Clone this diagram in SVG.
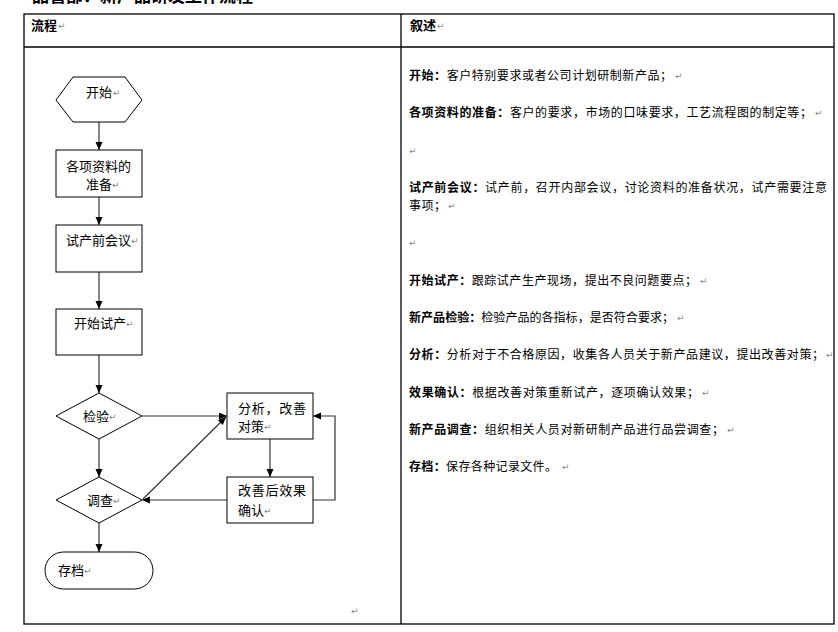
<svg xmlns="http://www.w3.org/2000/svg" width="838" height="632" viewBox="0 0 838 632">
<defs>
<marker id="arr" markerUnits="userSpaceOnUse" markerWidth="9" markerHeight="8" refX="8" refY="3.5" orient="auto">
<path d="M0,0 L8,3.5 L0,7 z" fill="#000"/>
</marker>
<style>
.t{font-family:"Liberation Sans","Noto Sans CJK SC",sans-serif;font-size:13px;fill:#000}
.r{font-family:"Liberation Sans","Noto Sans CJK SC",sans-serif;font-size:12px;fill:#000}
.b{font-weight:bold}
.pm{font-family:"DejaVu Sans",sans-serif;font-size:9px;fill:#888}
.grid{stroke:#000;stroke-width:1.3;fill:none}
.shape{fill:#fff;stroke:#000;stroke-width:1}
.c{stroke:#333;stroke-width:1.2;fill:none}
</style>
</defs>
<rect width="838" height="632" fill="#fff"/>
<text x="32" y="2" style="font-family:'Liberation Sans','Noto Sans CJK SC',sans-serif;font-size:17px;font-weight:bold">品管部：新产品研发工作流程</text>
<g id="table">
<rect x="24" y="14" width="810" height="610" class="grid"/>
<line x1="24" y1="47" x2="834" y2="47" class="grid"/>
<line x1="401" y1="14" x2="401" y2="624" class="grid"/>
<text x="31" y="30" class="r b" style="font-size:13px">流程</text><text x="58" y="29" class="pm">↵</text>
<text x="410" y="30" class="r b" style="font-size:13px">叙述</text><text x="437" y="29" class="pm">↵</text>
<text x="351" y="614" class="pm">↵</text>
</g>
<g id="connectors">
<line x1="99" y1="122" x2="99" y2="150" class="c" marker-end="url(#arr)"/>
<line x1="99" y1="197" x2="99" y2="225" class="c" marker-end="url(#arr)"/>
<line x1="99" y1="272" x2="99" y2="309" class="c" marker-end="url(#arr)"/>
<line x1="99" y1="355" x2="99" y2="393" class="c" marker-end="url(#arr)"/>
<line x1="99" y1="439" x2="99" y2="477" class="c" marker-end="url(#arr)"/>
<line x1="99" y1="523" x2="99" y2="552" class="c" marker-end="url(#arr)"/>
<line x1="142" y1="416" x2="227" y2="416" class="c" marker-end="url(#arr)"/>
<line x1="270" y1="439" x2="270" y2="477" class="c" marker-end="url(#arr)"/>
<polyline points="313,500 335,500 335,416 313,416" class="c" marker-end="url(#arr)"/>
<line x1="227" y1="500" x2="142" y2="500" class="c" marker-end="url(#arr)"/>
<line x1="143" y1="499" x2="226" y2="417" class="c" marker-end="url(#arr)"/>
</g>
<g id="n-start">
<polygon points="56,100 73,77 125,77 142,100 125,122 73,122" class="shape" stroke="#555"/>
<text x="86" y="97" class="t">开始</text><text x="113" y="96" class="pm">↵</text>
</g>
<g id="n-prep">
<rect x="56" y="150" width="86" height="47" class="shape"/>
<text x="66" y="171" class="t">各项资料的</text>
<text x="86" y="189" class="t">准备</text><text x="112" y="188" class="pm">↵</text>
</g>
<g id="n-meeting">
<rect x="56" y="225" width="86" height="47" class="shape"/>
<text x="66" y="245" class="t">试产前会议</text><text x="131" y="244" class="pm">↵</text>
</g>
<g id="n-trial">
<rect x="56" y="309" width="86" height="46" class="shape"/>
<text x="74" y="328" class="t">开始试产</text><text x="126" y="327" class="pm">↵</text>
</g>
<g id="n-inspect">
<polygon points="56,416 99,393 142,416 99,439" class="shape"/>
<text x="83" y="421" class="t">检验</text><text x="109" y="420" class="pm">↵</text>
</g>
<g id="n-survey">
<polygon points="56,500 99,477 142,500 99,523" class="shape"/>
<text x="87" y="505" class="t">调查</text><text x="113" y="504" class="pm">↵</text>
</g>
<g id="n-archive">
<rect x="45" y="552" width="108" height="37" rx="18.5" ry="18.5" class="shape"/>
<text x="58" y="575" class="t">存档</text><text x="84" y="574" class="pm">↵</text>
</g>
<g id="n-analysis">
<rect x="227" y="393" width="86" height="46" class="shape"/>
<text x="238" y="413" class="t" textLength="68">分析，改善</text>
<text x="238" y="431" class="t">对策</text><text x="264" y="430" class="pm">↵</text>
</g>
<g id="n-confirm">
<rect x="227" y="477" width="86" height="46" class="shape"/>
<text x="238" y="495" class="t" textLength="68">改善后效果</text>
<text x="238" y="515" class="t">确认</text><text x="264" y="514" class="pm">↵</text>
</g>
<g id="description">
<text x="409" y="79.5" class="r" textLength="263"><tspan class="b">开始：</tspan>客户特别要求或者公司计划研制新产品；</text><text x="675" y="79" class="pm">↵</text>
<text x="409" y="117" class="r" textLength="403"><tspan class="b">各项资料的准备：</tspan>客户的要求，市场的口味要求，工艺流程图的制定等；</text><text x="815" y="116" class="pm">↵</text>
<text x="409" y="154" class="pm">↵</text>
<text x="409" y="191.5" class="r" textLength="418"><tspan class="b">试产前会议：</tspan>试产前，召开内部会议，讨论资料的准备状况，试产需要注意</text>
<text x="409" y="210" class="r" textLength="37">事项；</text><text x="448" y="209" class="pm">↵</text>
<text x="409" y="246" class="pm">↵</text>
<text x="409" y="284.5" class="r" textLength="288"><tspan class="b">开始试产：</tspan>跟踪试产生产现场，提出不良问题要点；</text><text x="700" y="284" class="pm">↵</text>
<text x="409" y="322" class="r" textLength="265"><tspan class="b">新产品检验：</tspan>检验产品的各指标，是否符合要求；</text><text x="677" y="321" class="pm">↵</text>
<text x="409" y="359" class="r" textLength="415"><tspan class="b">分析：</tspan>分析对于不合格原因，收集各人员关于新产品建议，提出改善对策；</text><text x="826" y="358" class="pm">↵</text>
<text x="409" y="396.5" class="r" textLength="290"><tspan class="b">效果确认：</tspan>根据改善对策重新试产，逐项确认效果；</text><text x="702" y="396" class="pm">↵</text>
<text x="409" y="434" class="r" textLength="315"><tspan class="b">新产品调查：</tspan>组织相关人员对新研制产品进行品尝调查；</text><text x="727" y="433" class="pm">↵</text>
<text x="409" y="471" class="r" textLength="148"><tspan class="b">存档：</tspan>保存各种记录文件。</text><text x="562" y="470" class="pm">↵</text>
</g>
</svg>
